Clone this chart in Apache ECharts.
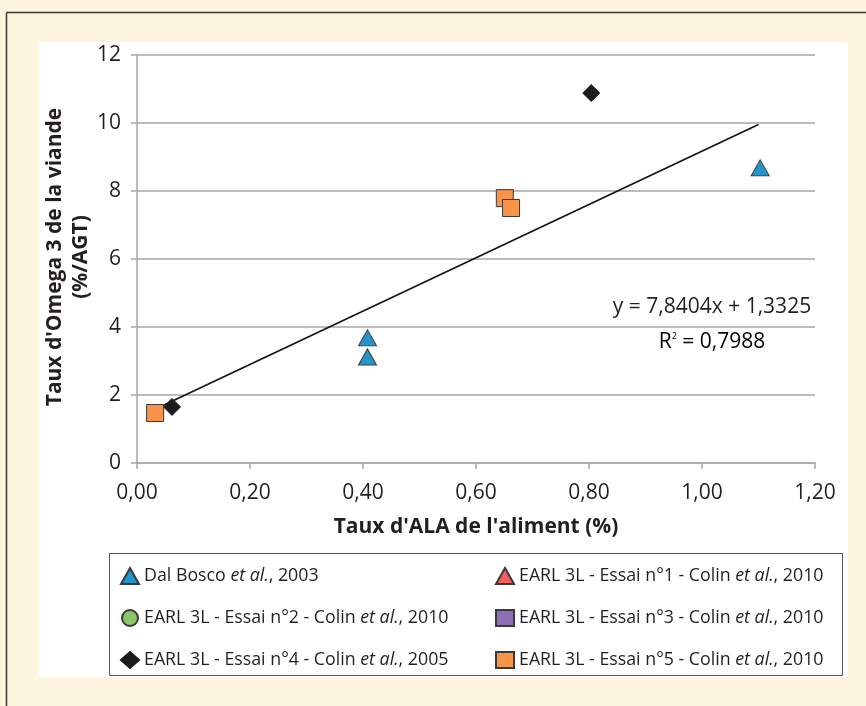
<!DOCTYPE html>
<html><head><meta charset="utf-8">
<script src="https://cdn.jsdelivr.net/npm/echarts@6/dist/echarts.min.js"></script>
<style>html,body{margin:0;padding:0;background:#fdf5de;}#c{width:866px;height:706px;}</style>
</head><body><div id="c"></div>
<script>
const xTicks = [0, 0.2, 0.4, 0.6, 0.8, 1.0, 1.2];
const yTicks = [0, 2, 4, 6, 8, 10, 12];
const dalBosco = [[0.408, 3.68], [0.408, 3.12], [1.103, 8.68]];
const essai1 = [];
const essai2 = [];
const essai3 = [];
const essai4 = [[0.062, 1.65], [0.804, 10.88]];
const essai5 = [[0.032, 1.47], [0.651, 7.79], [0.662, 7.50]];
const trendSlope = 7.8404, trendIntercept = 1.3325, trendR2 = '0,7988';
const trendX = [0.03, 1.10];
const trend = trendX.map(x => [x, trendSlope * x + trendIntercept]);

const names = {
  dal: 'Dal Bosco et al., 2003',
  e1: 'EARL 3L - Essai n°1 - Colin et al., 2010',
  e2: 'EARL 3L - Essai n°2 - Colin et al., 2010',
  e3: 'EARL 3L - Essai n°3 - Colin et al., 2010',
  e4: 'EARL 3L - Essai n°4 - Colin et al., 2005',
  e5: 'EARL 3L - Essai n°5 - Colin et al., 2010'
};
const FONT = '"Open Sans", "Noto Sans", sans-serif';
const TXT = '#231f20';
const fmt = v => v.toFixed(2).replace('.', ',');
function legendFmt(name) {
  const parts = name.split('et al.');
  return '{n|' + parts[0] + '}{i|et al.}{n|' + parts[1] + '}';
}
const LF = 17.8;
const legendText = {
  color: TXT, fontFamily: FONT, fontSize: LF,
  rich: {
    n: {fontFamily: FONT, fontSize: LF, color: TXT, lineHeight: 18},
    i: {fontFamily: FONT, fontSize: LF, color: TXT, fontStyle: 'italic', lineHeight: 18}
  }
};
const border = {borderColor: '#3a3a3a', borderWidth: 1, opacity: 1};
const chart = echarts.init(document.getElementById('c'), null, {renderer: 'canvas'});
chart.setOption({
  backgroundColor: '#fdf5de',
  animation: false,
  graphic: [
    {type: 'line', shape: {x1: 6.5, y1: 12.5, x2: 866, y2: 12.5}, style: {stroke: '#3a3a3a', lineWidth: 1.5}, z: -10},
    {type: 'line', shape: {x1: 6.5, y1: 12.5, x2: 6.5, y2: 706}, style: {stroke: '#3a3a3a', lineWidth: 1.5}, z: -10},
    {type: 'rect', shape: {x: 39, y: 42, width: 809, height: 635}, style: {fill: '#ffffff'}, z: -10},
    {type: 'rect', shape: {x: 109.5, y: 553.5, width: 733, height: 122}, style: {fill: 'none', stroke: '#555', lineWidth: 1}, z: -5},
    {type: 'text', x: 712, y: 307, style: {text: 'y = 7,8404x + 1,3325', fill: TXT, font: '21px ' + FONT, textAlign: 'center', textVerticalAlign: 'middle'}},
    {type: 'text', x: 712, y: 342, style: {
      text: '{n|R}{s|2}{n| = ' + trendR2 + '}', textAlign: 'center', textVerticalAlign: 'middle',
      rich: {n: {fontFamily: FONT, fontSize: 21, color: TXT}, s: {fontFamily: FONT, fontSize: 9, color: TXT, verticalAlign: 'top', padding: [0,0,12,0]}}
    }},
    {type: 'text', x: 68, y: 257, rotation: Math.PI / 2,
      style: {text: "Taux d'Omega 3 de la viande\n(%/AGT)", fill: TXT, font: 'bold 21px ' + FONT, textAlign: 'center', textVerticalAlign: 'middle', lineHeight: 26}}
  ],
  grid: {left: 137, right: 51, top: 55, bottom: 243},
  xAxis: {
    type: 'value', min: 0, max: 1.2, interval: 0.2,
    name: "Taux d'ALA de l'aliment (%)", nameLocation: 'middle', nameGap: 54,
    nameTextStyle: {color: TXT, fontFamily: FONT, fontSize: 21, fontWeight: 'bold'},
    axisLine: {show: true, lineStyle: {color: '#a6a6a6', width: 1.5}},
    axisTick: {show: true, length: 6, lineStyle: {color: '#a6a6a6', width: 1.5}},
    axisLabel: {color: TXT, fontFamily: FONT, fontSize: 21, margin: 20, formatter: v => fmt(v)},
    splitLine: {show: false}
  },
  yAxis: {
    type: 'value', min: 0, max: 12, interval: 2,
    axisLine: {show: true, lineStyle: {color: '#a6a6a6', width: 1.5}},
    axisTick: {show: true, length: 6, lineStyle: {color: '#a6a6a6', width: 1.5}},
    axisLabel: {color: TXT, fontFamily: FONT, fontSize: 21, margin: 16},
    splitLine: {show: true, lineStyle: {color: '#a6a6a6', width: 1.5}}
  },
  legend: [
    {left: 115, top: 562, orient: 'vertical', itemGap: 24, itemWidth: 18, itemHeight: 16,
     data: [names.dal, names.e2, names.e4], formatter: legendFmt, textStyle: legendText, selectedMode: false},
    {left: 490, top: 562, orient: 'vertical', itemGap: 24, itemWidth: 18, itemHeight: 16,
     data: [names.e1, names.e3, names.e5], formatter: legendFmt, textStyle: legendText, selectedMode: false}
  ],
  series: [
    {type: 'line', data: trend, symbol: 'none', lineStyle: {color: '#111', width: 1.6}, silent: true, z: 1},
    {name: names.dal, type: 'scatter', data: dalBosco, symbol: 'triangle', symbolSize: [18, 16], itemStyle: {color: '#2397cc', ...border}, z: 3},
    {name: names.e1, type: 'scatter', data: essai1, symbol: 'triangle', symbolSize: [18, 16], itemStyle: {color: '#f0605d', ...border}},
    {name: names.e2, type: 'scatter', data: essai2, symbol: 'circle', symbolSize: 16, itemStyle: {color: '#8cc66a', ...border}},
    {name: names.e3, type: 'scatter', data: essai3, symbol: 'rect', symbolSize: 16, itemStyle: {color: '#8c6fb4', ...border}},
    {name: names.e4, type: 'scatter', data: essai4, symbol: 'diamond', symbolSize: 17, itemStyle: {color: '#1e1b1c', borderColor: '#1e1b1c', borderWidth: 1, opacity: 1}, z: 3},
    {name: names.e5, type: 'scatter', data: essai5, symbol: 'rect', symbolSize: 17, itemStyle: {color: '#f7944a', ...border}, z: 3}
  ]
});
</script></body></html>
